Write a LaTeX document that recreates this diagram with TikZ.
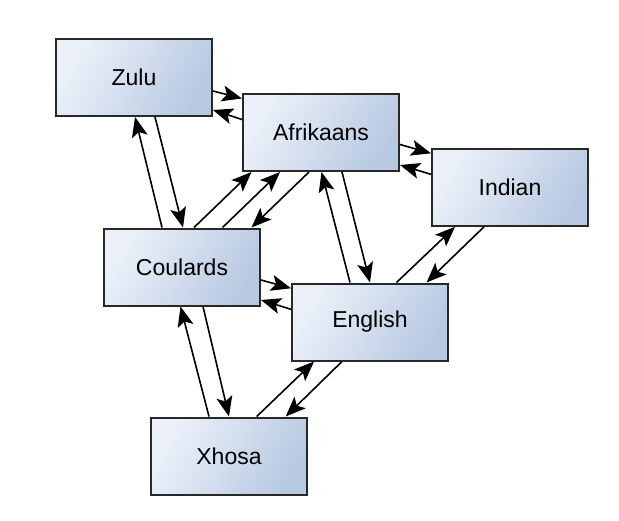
\documentclass[tikz,border=0pt]{standalone}
\usepackage{fontspec}
\setmainfont{Liberation Sans}
\usetikzlibrary{arrows.meta}
\definecolor{boxlight}{RGB}{236,241,249}
\definecolor{boxdark}{RGB}{184,201,226}
\definecolor{boxline}{RGB}{40,40,40}
\tikzset{
  langbox/.style={draw=boxline, line width=2pt, left color=boxlight, right color=boxdark,
    shading angle=60,
    minimum width=156pt, minimum height=77pt, inner sep=0pt,
    font=\fontsize{23}{27}\selectfont},
  link/.style={line width=1.6pt, -{Stealth[length=20pt,width=16pt,inset=4.5pt]}}
}
\begin{document}
\begin{tikzpicture}[x=1pt,y=1pt]
\useasboundingbox (0,0) rectangle (619,-520);
\node[langbox] (zulu) at (134,-77.5) {Zulu};
\node[langbox] (afr) at (321,-132.5) {Afrikaans};
\node[langbox] (ind) at (510,-187.3) {Indian};
\node[langbox] (coul) at (182,-267) {Coulards};
\node[langbox] (eng) at (370,-322) {English};
\node[langbox] (xho) at (229,-456) {Xhosa};
% Zulu <-> Afrikaans
\draw[link] ([yshift=-13.5pt]zulu.east) -- ([yshift=34pt]afr.west);
\draw[link] ([yshift=13pt]afr.west) -- ([yshift=-32.5pt]zulu.east);
% Zulu <-> Coulards
\draw[link] ([xshift=-20pt]coul.north) -- ([xshift=1pt]zulu.south);
\draw[link] ([xshift=21pt]zulu.south) -- ([xshift=1pt]coul.north);
% Coulards <-> Afrikaans
\draw[link] ([xshift=12pt]coul.north) -- ([xshift=-69.5pt]afr.south);
\draw[link] ([xshift=40.5pt]coul.north) -- ([xshift=-41pt]afr.south);
\draw[link] ([xshift=-12pt]afr.south) -- ([xshift=69.5pt]coul.north);
% English <-> Afrikaans
\draw[link] ([xshift=-20pt]eng.north) -- ([xshift=0.5pt]afr.south);
\draw[link] ([xshift=21pt]afr.south) -- ([xshift=0pt]eng.north);
% Afrikaans <-> Indian
\draw[link] ([yshift=-12pt]afr.east) -- ([yshift=34pt]ind.west);
\draw[link] ([yshift=13pt]ind.west) -- ([yshift=-32.5pt]afr.east);
% English <-> Indian
\draw[link] ([xshift=26.5pt]eng.north) -- ([xshift=-55pt]ind.south);
\draw[link] ([xshift=-26pt]ind.south) -- ([xshift=56.5pt]eng.north);
% Coulards <-> English
\draw[link] ([yshift=-13pt]coul.east) -- ([yshift=33.7pt]eng.west);
\draw[link] ([yshift=12.7pt]eng.west) -- ([yshift=-33pt]coul.east);
% Xhosa <-> Coulards
\draw[link] ([xshift=-20pt]xho.north) -- ([xshift=-1.5pt]coul.south);
\draw[link] ([xshift=21pt]coul.south) -- ([xshift=0pt]xho.north);
% Xhosa <-> English
\draw[link] ([xshift=27.7pt]xho.north) -- ([xshift=-56pt]eng.south);
\draw[link] ([xshift=-28pt]eng.south) -- ([xshift=56.7pt]xho.north);
\end{tikzpicture}
\end{document}
